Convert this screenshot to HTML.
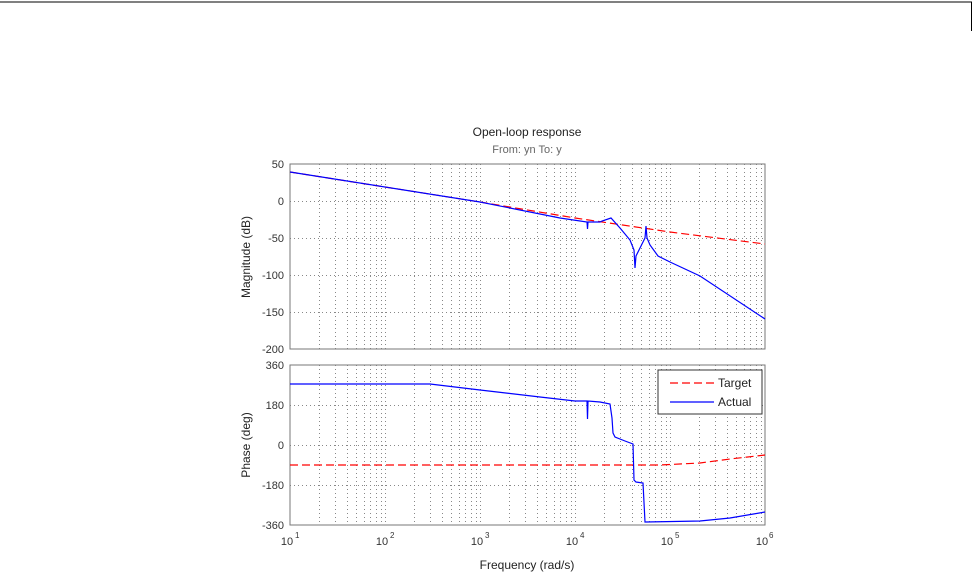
<!DOCTYPE html>
<html><head><meta charset="utf-8"><style>
body{margin:0;background:#fff;width:973px;height:579px;overflow:hidden}
svg{display:block;font-family:"Liberation Sans",sans-serif}
</style></head><body>
<svg id="s" width="973" height="579" xmlns="http://www.w3.org/2000/svg">
<line x1="0" y1="2" x2="972" y2="2" stroke="#000" stroke-width="1"/>
<line x1="971.5" y1="2" x2="971.5" y2="31" stroke="#000"/>
<g id="grid" stroke="#888" stroke-width="1" stroke-dasharray="1,3"></g>
<rect x="290" y="164" width="475" height="185" fill="none" stroke="#777"/>
<rect x="290" y="365" width="475" height="160" fill="none" stroke="#777"/>
<text x="527" y="136" font-size="12" text-anchor="middle" fill="#222">Open-loop response</text>
<text x="527" y="153" font-size="11" text-anchor="middle" fill="#666">From: yn  To: y</text>
<g font-size="11" fill="#333" text-anchor="end">
<text x="284" y="168">50</text><text x="284" y="205">0</text><text x="284" y="242">-50</text><text x="284" y="279">-100</text><text x="284" y="316">-150</text><text x="284" y="353">-200</text>
<text x="284" y="369">360</text><text x="284" y="409">180</text><text x="284" y="449">0</text><text x="284" y="489">-180</text><text x="284" y="529">-360</text>
</g>
<g font-size="11" fill="#333" text-anchor="middle">
<text x="287" y="545">10</text><text x="382" y="545">10</text><text x="477" y="545">10</text><text x="572" y="545">10</text><text x="667" y="545">10</text><text x="762" y="545">10</text>
</g>
<g font-size="8" fill="#333">
<text x="295" y="538">1</text><text x="390" y="538">2</text><text x="485" y="538">3</text><text x="580" y="538">4</text><text x="675" y="538">5</text><text x="769" y="538">6</text>
</g>
<text x="527" y="569" font-size="12" text-anchor="middle" fill="#222">Frequency  (rad/s)</text>
<text transform="translate(250,257) rotate(-90)" font-size="12" text-anchor="middle" fill="#222">Magnitude (dB)</text>
<text transform="translate(250,445) rotate(-90)" font-size="12" text-anchor="middle" fill="#222">Phase (deg)</text>
<polyline fill="none" stroke="#f00" stroke-width="1.2" stroke-dasharray="8,4" points="290,172 480,202 575,218 670,232 765,244"/>
<polyline fill="none" stroke="#00f" stroke-width="1.2" points="290,172 480,202 560,218 587,222 587.5,229 588,222 600,222 602,221 611,218 620,228 630,240 634,250 635,268 636,256 640,248 645,238 646,226 647,238 650,245 658,256 670,262 700,276 765,319"/>
<polyline fill="none" stroke="#f00" stroke-width="1.2" stroke-dasharray="8,4" points="290,465 660,465 700,463 730,459 765,455"/>
<polyline fill="none" stroke="#00f" stroke-width="1.2" points="290,384 430,384 480,390 540,397 575,401 587,401 587.5,419 588,401 600,402 610,404 612,418 613,433 615,437 625,441 633,444 634,480 636,482 643,483 645,522 646,522 700,521 730,518 765,512"/>
<rect x="658" y="370" width="104" height="44" fill="#fff" stroke="#333"/>
<line x1="670" y1="383" x2="714" y2="383" stroke="#f00" stroke-width="1.2" stroke-dasharray="8,4"/>
<line x1="670" y1="402" x2="714" y2="402" stroke="#00f" stroke-width="1.2"/>
<text x="718" y="387" font-size="12" fill="#222">Target</text>
<text x="718" y="406" font-size="12" fill="#222">Actual</text>
</svg>
<script>
var g=document.getElementById('grid'),h='';
function L(x1,y1,x2,y2){h+='<line x1="'+x1+'" y1="'+y1+'" x2="'+x2+'" y2="'+y2+'"/>';}
for(var d=0;d<5;d++)for(var k=1;k<10;k++){var x=290+95*(d+Math.log10(k));if(k==1&&d==0)continue;x=Math.round(x)+0.5;L(x,164,x,349);L(x,365,x,525);}
[201,238,275,312].forEach(function(y){L(290,y+0.5,765,y+0.5)});
[405,445,485].forEach(function(y){L(290,y+0.5,765,y+0.5)});
g.innerHTML=h;
</script>
</body></html>
